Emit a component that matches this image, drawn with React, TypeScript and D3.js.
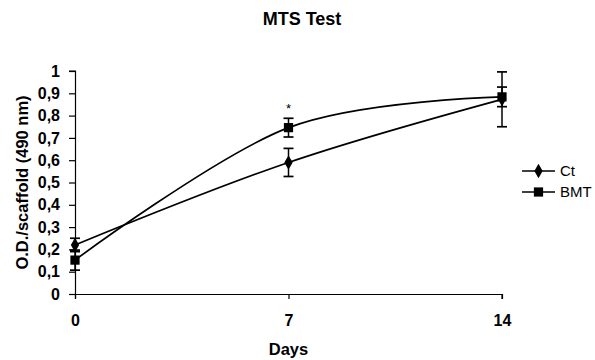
import React, { useEffect, useRef } from 'react';
import * as d3 from 'd3';

const days = [0, 7, 14];
const ctValues = [0.22, 0.59, 0.873];
const ctErrors = [0.03, 0.063, 0.123];
const bmtValues = [0.152, 0.746, 0.884];
const bmtErrors = [0.045, 0.042, 0.044];
const yTicks = [0, 0.1, 0.2, 0.3, 0.4, 0.5, 0.6, 0.7, 0.8, 0.9, 1];
const seriesNames = ['Ct', 'BMT'];

const FONT = '"Liberation Sans", Arial, sans-serif';

// MTS test line chart with error bars
const App: React.FC = () => {
  const svgRef = useRef<SVGSVGElement>(null);

  useEffect(() => {
    if (!svgRef.current) return;
    const svg = d3.select(svgRef.current);
    svg.selectAll('*').remove();

    const x = d3.scaleLinear().domain([0, 14]).range([75, 502]);
    const y = d3.scaleLinear().domain([0, 1]).range([294, 71]);

    svg.append('rect').attr('width', 595).attr('height', 360).attr('fill', '#fff');

    // Title
    svg.append('text')
      .attr('x', 302).attr('y', 25)
      .attr('text-anchor', 'middle')
      .style('font-family', FONT).style('font-size', '18px').style('font-weight', 'bold')
      .text('MTS Test');

    // Axes
    const yAxis = svg.append('g')
      .attr('transform', `translate(${x(0)},0)`)
      .call(d3.axisLeft(y).tickValues(yTicks).tickSize(6).tickPadding(9)
        .tickFormat(d => d3.format('.1~f')(d as number).replace('.', ',')));
    const xAxis = svg.append('g')
      .attr('transform', `translate(0,${y(0)})`)
      .call(d3.axisBottom(x).tickValues(days).tickSize(5).tickPadding(16));

    [yAxis, xAxis].forEach(a => {
      a.select('.domain').attr('stroke', '#000').attr('stroke-width', 1.2);
      a.selectAll('.tick line').attr('stroke', '#000').attr('stroke-width', 1.2);
      a.selectAll('text')
        .style('font-family', FONT).style('font-size', '16px').style('font-weight', 'bold')
        .attr('fill', '#000');
    });
    xAxis.select('.domain').attr('d', `M${x(0) - 6},0.5H${x(14)}V5`);
    yAxis.select('.domain').attr('d', `M-6,${y(1)}H0.5V${y(0) + 5}`);

    // Axis titles
    svg.append('text')
      .attr('transform', `translate(28,${(y(0) + y(1)) / 2}) rotate(-90)`)
      .attr('text-anchor', 'middle')
      .style('font-family', FONT).style('font-size', '16.5px').style('font-weight', 'bold')
      .text('O.D./scaffold (490 nm)');
    svg.append('text')
      .attr('x', x(7)).attr('y', 355)
      .attr('text-anchor', 'middle')
      .style('font-family', FONT).style('font-size', '16.5px').style('font-weight', 'bold')
      .text('Days');

    const series = [
      { name: seriesNames[0], values: ctValues, errors: ctErrors, symbol: d3.symbolDiamond, size: 60 },
      { name: seriesNames[1], values: bmtValues, errors: bmtErrors, symbol: d3.symbolSquare, size: 85 },
    ];

    const line = d3.line<number>()
      .x((_, i) => x(days[i]))
      .y(d => y(d))
      .curve(d3.curveCardinal.tension(0));

    series.forEach(s => {
      svg.append('path')
        .attr('d', line(s.values))
        .attr('fill', 'none')
        .attr('stroke', '#000')
        .attr('stroke-width', 1.7);

      // Error bars
      const eb = svg.append('g');
      s.values.forEach((v, i) => {
        const cx = x(days[i]);
        const top = y(v + s.errors[i]);
        const bot = y(v - s.errors[i]);
        eb.append('line').attr('x1', cx).attr('x2', cx).attr('y1', top).attr('y2', bot)
          .attr('stroke', '#000').attr('stroke-width', 1.5);
        [top, bot].forEach(yy => {
          eb.append('line').attr('x1', cx - 5).attr('x2', cx + 5).attr('y1', yy).attr('y2', yy)
            .attr('stroke', '#000').attr('stroke-width', 1.7);
        });
      });

      svg.append('g').selectAll('path')
        .data(s.values)
        .enter()
        .append('path')
        .attr('transform', (d, i) => `translate(${x(days[i])},${y(d)})`)
        .attr('d', d3.symbol().type(s.symbol).size(s.size)())
        .attr('fill', '#000');
    });

    // Significance marker
    svg.append('text')
      .attr('x', x(7)).attr('y', y(bmtValues[1] + bmtErrors[1]) - 5)
      .attr('text-anchor', 'middle')
      .style('font-family', FONT).style('font-size', '13px')
      .text('*');

    // Legend
    series.forEach((s, i) => {
      const ly = 171 + i * 21;
      const g = svg.append('g').attr('transform', `translate(522,${ly})`);
      g.append('line').attr('x1', 0).attr('x2', 33).attr('y1', 0).attr('y2', 0)
        .attr('stroke', '#000').attr('stroke-width', 1.7);
      g.append('path').attr('transform', 'translate(16.5,0)')
        .attr('d', d3.symbol().type(s.symbol).size(s.size)()).attr('fill', '#000');
      g.append('text').attr('x', 38).attr('y', 0).attr('dy', '0.35em')
        .style('font-family', FONT).style('font-size', '15px')
        .text(s.name);
    });
  }, []);

  return <svg ref={svgRef} width={595} height={360} style={{ position: 'absolute', left: 0, top: 0 }} />;
};

export default App;
